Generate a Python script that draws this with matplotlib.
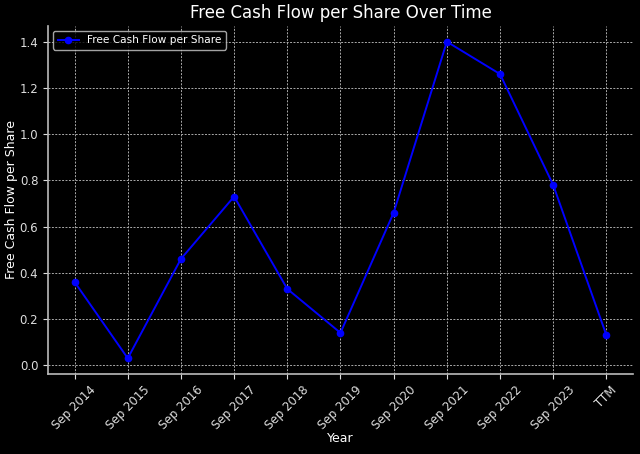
import matplotlib
matplotlib.use("Agg")
import matplotlib.pyplot as plt

plt.style.use("dark_background")

years = ["Sep 2014", "Sep 2015", "Sep 2016", "Sep 2017", "Sep 2018", "Sep 2019",
         "Sep 2020", "Sep 2021", "Sep 2022", "Sep 2023", "TTM"]
fcf_per_share = [0.36, 0.03, 0.46, 0.73, 0.33, 0.14, 0.66, 1.40, 1.26, 0.78, 0.13]

fig, ax = plt.subplots(figsize=(6.4, 4.54), dpi=100)
ax.plot(years, fcf_per_share, marker="o", markersize=4.5, color="blue", linewidth=1.4,
        label="Free Cash Flow per Share")

ax.set_title("Free Cash Flow per Share Over Time", fontsize=12)
ax.set_xlabel("Year", fontsize=9, labelpad=0)
ax.set_ylabel("Free Cash Flow per Share", fontsize=9, labelpad=1)
ax.grid(True, linestyle="--", dashes=(2, 1.5), color="#aaaaaa", linewidth=0.7)
ax.spines["top"].set_visible(False)
ax.spines["right"].set_visible(False)
for side in ("left", "bottom"):
    ax.spines[side].set_color("#bbbbbb")
    ax.spines[side].set_linewidth(1.2)
ax.tick_params(labelsize=8.5, colors="#dddddd")
ax.legend(loc="upper left", fontsize=7.6)
plt.xticks(rotation=45)

fig.subplots_adjust(left=0.075, right=0.989, top=0.943, bottom=0.176)
fig.savefig("out.png", dpi=100)
